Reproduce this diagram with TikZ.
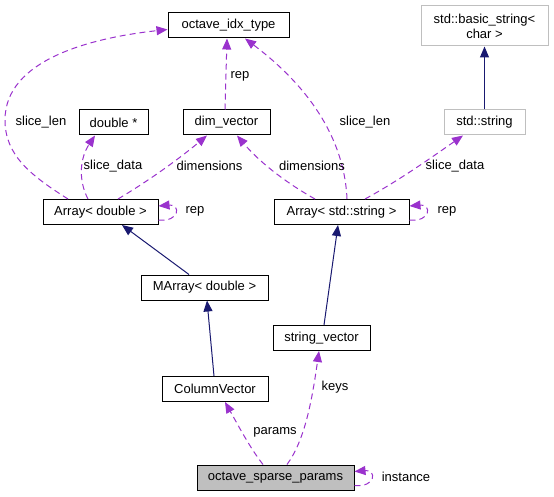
\documentclass[tikz,border=0pt]{standalone}
\usepackage{fontspec}
\setmainfont{Liberation Sans}
\usetikzlibrary{arrows.meta}

\definecolor{memberc}{HTML}{9A32CD}
\definecolor{inheritc}{HTML}{191970}
\definecolor{extc}{HTML}{BFBFBF}

\begin{document}
\begin{tikzpicture}[x=1pt, y=-1pt, font=\fontsize{13}{15}\selectfont,
  cls/.style={draw, line width=1pt, inner sep=0pt, minimum height=25pt},
  extcls/.style={cls, draw=extc},
  member/.style={memberc, dash pattern=on 6pt off 4pt, line width=1pt, -{Triangle[length=11pt,width=9pt]}},
  inherit/.style={inheritc, line width=1pt, -{Triangle[length=11pt,width=9pt]}},
  lbl/.style={inner sep=1pt}]
  \useasboundingbox (0,0) rectangle (554,497);

  % classes
  \node[cls, minimum width=121pt] (idx) at (228.5,25.5) {octave\_idx\_type};
  \node[extcls, minimum width=127pt, minimum height=40pt, align=center] (bstr) at (484.5,26) {std::basic\_string<\\char >};
  \node[cls, minimum width=69pt] (dptr) at (113.5,122.5) {double *};
  \node[cls, minimum width=87pt] (dim) at (226.5,122.5) {dim\_vector};
  \node[extcls, minimum width=81pt] (str) at (484.5,122.5) {std::string};
  \node[cls, minimum width=115pt] (arrD) at (100.5,212) {Array< double >};
  \node[cls, minimum width=135pt] (arrS) at (341.5,212) {Array< std::string >};
  \node[cls, minimum width=127pt] (marr) at (204.5,287.5) {MArray< double >};
  \node[cls, minimum width=97pt] (svec) at (321.5,338) {string\_vector};
  \node[cls, minimum width=106pt] (cvec) at (215,389) {ColumnVector};
  \node[cls, fill=extc, minimum width=157pt] (osp) at (275.5,477.5) {octave\_sparse\_params};

  % inheritance
  \draw[inherit] (str.north) -- (bstr.south);
  \draw[inherit] ([xshift=-15.5pt]marr.north) -- ([xshift=21.5pt]arrD.south);
  \draw[inherit] ([xshift=2.5pt]svec.north) -- ([xshift=-3.5pt]arrS.south);
  \draw[inherit] ([xshift=-1pt]cvec.north) -- ([xshift=2.5pt]marr.south);

  % members of dim_vector
  \draw[member] ([xshift=-1.5pt]dim.north) -- ([xshift=-1.5pt]idx.south);
  \node[lbl] (lrep) at (240,76) {rep};

  % members of Array< double >
  \draw[member] ([xshift=-32.5pt]arrD.north) .. controls (30,175) and (5,155) .. (5,120)
    .. controls (5,60) and (90,38) .. ([yshift=-4pt]idx.west);
  \node[lbl] (llenD) at (41,122) {slice\_len};
  \draw[member] ([xshift=-12.5pt]arrD.north) .. controls (78,180) and (80,158) .. ([xshift=-18.5pt]dptr.south);
  \node[lbl] (ldataD) at (113,166) {slice\_data};
  \draw[member] ([xshift=17.5pt]arrD.north) .. controls (150,180) and (180,158) .. ([xshift=-19.5pt]dim.south);
  \node[lbl] (ldimD) at (209.5,166) {dimensions};
  \draw[member] ([yshift=-8pt]arrD.east) .. controls +(22,2) and +(22,-2) .. ([yshift=6pt]arrD.east);
  \node[lbl] (lrepD) at (195,211) {rep};

  % members of Array< std::string >
  \draw[member] ([xshift=5.5pt]arrS.north) .. controls (345,150) and (320,95) .. ([xshift=16.5pt]idx.south);
  \node[lbl] (llenS) at (365,122) {slice\_len};
  \draw[member] ([xshift=-26.5pt]arrS.north) .. controls (290,185) and (262,165) .. ([xshift=10.5pt]dim.south);
  \node[lbl] (ldimS) at (312,166) {dimensions};
  \draw[member] ([xshift=23.5pt]arrS.north) .. controls (400,180) and (435,155) .. ([xshift=-21.5pt]str.south);
  \node[lbl] (ldataS) at (455,166) {slice\_data};
  \draw[member] ([yshift=-8pt]arrS.east) .. controls +(22,2) and +(22,-2) .. ([yshift=6pt]arrS.east);
  \node[lbl] (lrepS) at (447,211) {rep};

  % members of octave_sparse_params
  \draw[member] ([xshift=-12.5pt]osp.north) .. controls (250,448) and (238,425) .. ([xshift=10pt]cvec.south);
  \node[lbl] (lpar) at (275,432) {params};
  \draw[member] ([xshift=11.5pt]osp.north) .. controls (305,440) and (312,400) .. ([xshift=-2.5pt]svec.south);
  \node[lbl] (lkeys) at (335,387) {keys};
  \draw[member] ([yshift=-8pt]osp.east) .. controls +(22,2) and +(22,-2) .. ([yshift=6pt]osp.east);
  \node[lbl] (linst) at (406,477) {instance};
\end{tikzpicture}
\end{document}
